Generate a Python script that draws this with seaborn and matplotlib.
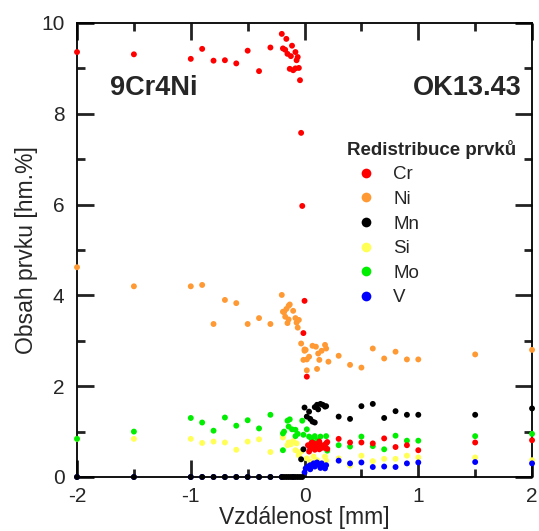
import numpy as np
import pandas as pd
import seaborn as sns
import matplotlib.pyplot as plt
from matplotlib.lines import Line2D
from matplotlib.ticker import MultipleLocator

sns.set_theme(style="ticks")
plt.rcParams['font.family'] = ['Liberation Sans', 'DejaVu Sans']
plt.rcParams['axes.unicode_minus'] = False

elements = ["Cr", "Ni", "Mn", "Si", "Mo", "V"]
colors = {"Cr": "#ff0000", "Ni": "#ff9933", "Mn": "#000000",
          "Si": "#ffff55", "Mo": "#00ee00", "V": "#0000ff"}

far_x = [-2, -1.5, -1.0, -0.9, -0.8, -0.7, -0.6, -0.5, -0.4, -0.3]
right_x = [0.3, 0.4, 0.5, 0.6, 0.7, 0.8, 0.9, 1.0, 1.5, 2.0]

# Cr
cr_x = far_x + [-0.2, -0.16, -0.19, -0.17, -0.11, -0.15, -0.12, -0.08, -0.06, -0.07,
                -0.13, -0.1, -0.08, -0.05, -0.04, -0.03, -0.02, 0.0, -0.01, 0.02,
                0.03, 0.05, 0.06, 0.08, 0.09, 0.1, 0.12, 0.13, 0.15, 0.17, 0.19, 0.2,
                0.04, 0.07, 0.11, 0.14, 0.18, 0.05, 0.09, 0.13, 0.16, 0.2] + right_x
cr_y = [9.36, 9.31, 9.21, 9.43, 9.17, 9.18, 9.11, 9.39, 8.94, 9.46,
        9.76, 9.65, 9.44, 9.41, 9.5, 9.32, 9.27, 9.36, 9.25, 9.18,
        8.99, 8.96, 9.0, 9.01, 8.74, 7.58, 5.97, 3.88, 3.17, 2.21,
        0.7, 0.62, 0.75, 0.68, 0.6, 0.72, 0.66, 0.78, 0.64, 0.7, 0.74, 0.62,
        0.56, 0.76, 0.68, 0.7, 0.64, 0.66, 0.73, 0.61, 0.69, 0.77] + \
       [0.84, 0.76, 0.76, 0.74, 0.85, 0.66, 0.7, 0.59, 0.76, 0.81]

# Ni
ni_x = far_x + [-0.2, -0.18, -0.16, -0.13, -0.14, -0.1, -0.19, -0.17, -0.14, -0.15,
                -0.08, -0.07, -0.05, -0.06, -0.03, 0.0, 0.0, 0.01, 0.02, 0.04,
                0.07, 0.1, 0.12, 0.15, 0.18, 0.19, 0.13, 0.11, 0.21, -0.01, 0.02] + right_x
ni_y = [4.62, 4.2, 4.2, 4.23, 3.37, 3.9, 3.83, 3.37, 3.5, 3.37,
        4.01, 3.63, 3.70, 3.80, 3.77, 3.66, 3.64, 3.53, 3.47, 3.39,
        3.5, 3.4, 3.46, 3.29, 2.94, 2.81, 2.78, 2.8, 2.59, 2.65,
        2.89, 2.87, 2.72, 2.78, 2.91, 2.83, 2.58, 2.38, 2.54, 2.58, 2.35] + \
       [2.67, 2.47, 2.41, 2.83, 2.61, 2.76, 2.59, 2.59, 2.70, 2.80]

# Mn
mn_x = far_x + [-0.2, -0.18, -0.16, -0.14, -0.12, -0.1, -0.08, -0.06, -0.04, -0.02,
                -0.03, -0.01, 0.0, 0.02, 0.04, 0.05, 0.07, 0.09, 0.09, 0.11,
                0.12, 0.14, 0.16, 0.18, 0.19] + right_x
mn_y = [0.0] * 10 + [0.0] * 10 + \
       [0.39, 0.61, 1.53, 1.33, 1.44, 1.28, 1.22, 1.2, 1.54, 1.59,
        1.49, 1.61, 1.59, 1.55, 1.56] + \
       [1.33, 1.28, 1.56, 1.61, 1.3, 1.45, 1.37, 1.37, 1.37, 1.51]

# Si
si_x = far_x + [-0.19, -0.14, -0.12, -0.15, -0.1, -0.07, -0.08, -0.05, -0.03, -0.05,
                0.02, 0.05, 0.08, 0.11, 0.18, 0.19] + right_x
si_y = [0.84, 0.84, 0.84, 0.75, 0.78, 0.76, 0.6, 0.78, 0.83, 0.55,
        0.87, 0.76, 0.72, 0.70, 0.79, 0.74, 0.59, 0.54, 0.56, 0.48,
        0.41, 0.34, 0.45, 0.37, 0.45, 0.36] + \
       [0.41, 0.25, 0.47, 0.35, 0.4, 0.4, 0.47, 0.43, 0.43, 0.37]

# Mo
mo_x = far_x + [-0.15, -0.13, -0.14, -0.18, -0.19, -0.11, -0.08, -0.06, -0.08, -0.02,
                -0.01, 0.02, 0.04, 0.06, 0.09, 0.11, 0.14, 0.19, 0.2, -0.19] + right_x
mo_y = [0.84, 1.0, 1.3, 1.2, 1.02, 1.31, 1.13, 1.25, 1.07, 1.37,
        1.24, 1.27, 1.11, 1.0, 0.96, 1.05, 1.04, 0.95, 0.9, 1.24,
        0.93, 1.05, 0.89, 0.85, 0.9, 0.81, 0.89, 0.9, 0.58, 0.59] + \
       [0.7, 0.67, 0.89, 0.68, 0.61, 0.91, 0.8, 0.8, 0.9, 0.95]

# V
v_x = far_x + [-0.2, -0.1, 0.0, 0.01, 0.03, 0.05, 0.08, 0.09, 0.11, 0.13,
               0.15, 0.17, 0.19, 0.18, 0.05, 0.14] + right_x
v_y = [0.0] * 10 + [0.0, 0.0, 0.1, 0.19, 0.23, 0.17, 0.30, 0.23, 0.32, 0.26,
                    0.30, 0.23, 0.26, 0.19, 0.26, 0.2] + \
      [0.36, 0.3, 0.32, 0.22, 0.23, 0.22, 0.3, 0.32, 0.33, 0.3]

series = {"Cr": (cr_x, cr_y), "Ni": (ni_x, ni_y), "Mn": (mn_x, mn_y),
          "Si": (si_x, si_y), "Mo": (mo_x, mo_y), "V": (v_x, v_y)}
draw_order = ["Si", "V", "Mo", "Cr", "Ni", "Mn"]
df = pd.concat([pd.DataFrame({"x": series[e][0], "y": series[e][1], "prvek": e})
                for e in draw_order], ignore_index=True)

fig = plt.figure(figsize=(5.39, 5.31), dpi=100)
ax = fig.add_axes([0.1429, 0.1017, 0.8442, 0.855])
sns.scatterplot(data=df, x="x", y="y", hue="prvek", palette=colors,
                s=18, linewidth=0, legend=False, ax=ax, clip_on=False, zorder=3)

ax.set_xlim(-2, 2)
ax.set_ylim(0, 10)
ax.xaxis.set_major_locator(MultipleLocator(1))
ax.xaxis.set_minor_locator(MultipleLocator(0.5))
ax.yaxis.set_major_locator(MultipleLocator(2))
ax.yaxis.set_minor_locator(MultipleLocator(1))
ax.tick_params(which="both", direction="in", top=True, right=True,
               color="#222222", width=2)
ax.tick_params(which="major", length=12)
ax.tick_params(which="minor", length=6)
ax.tick_params(axis="both", which="major", labelsize=15)
ax.tick_params(axis="x", which="major", pad=7)
ax.tick_params(axis="y", which="major", pad=9)
for sp in ax.spines.values():
    sp.set_color("black")
    sp.set_linewidth(1.3)

ax.set_xlabel("Vzdálenost [mm]", fontsize=16.5, labelpad=0)
ax.set_ylabel("Obsah prvku [hm.%]", fontsize=16.5, labelpad=2)

ax.text(0.0725, 0.857, "9Cr4Ni", transform=ax.transAxes, fontsize=19.5,
        fontweight="bold", ha="left", va="center")
ax.text(0.978, 0.857, "OK13.43", transform=ax.transAxes, fontsize=19.5,
        fontweight="bold", ha="right", va="center")

handles = [Line2D([], [], marker="o", linestyle="", color=colors[e],
                  markersize=7, markeredgewidth=0) for e in elements]
leg = ax.legend(handles, elements, title="Redistribuce prvků", loc="upper left",
                bbox_to_anchor=(0.565, 0.772), frameon=False, fontsize=13.5,
                title_fontproperties={"weight": "bold", "size": 13.5},
                handletextpad=0.45, labelspacing=0.4, borderpad=0.2)
leg._legend_box.align = "left"

fig.savefig("out.png", dpi=100)
